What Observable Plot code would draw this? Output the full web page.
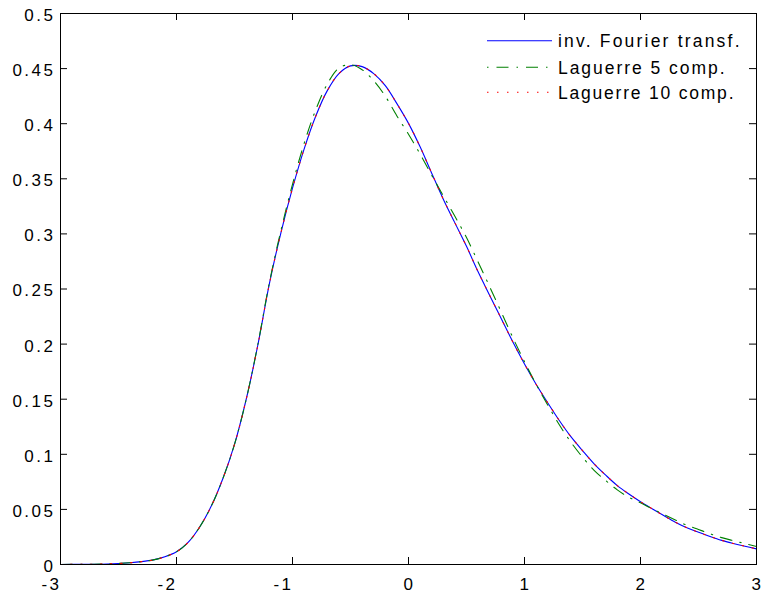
<!DOCTYPE html>
<html>
<head>
<meta charset="utf-8">
<script src="https://cdn.jsdelivr.net/npm/d3@7"></script>
<script src="https://cdn.jsdelivr.net/npm/@observablehq/plot@0.6"></script>
<style>
  html, body { margin: 0; padding: 0; background: #fff; }
  #chart { position: relative; width: 764px; height: 599px; }
</style>
</head>
<body>
<div id="chart"></div>
<script>
// ---- data ----
const xs = [-3.0, -2.8, -2.6, -2.4, -2.3, -2.2, -2.1, -2.0, -1.9, -1.8, -1.7, -1.6, -1.5, -1.4, -1.3, -1.2, -1.1, -1.0,
  -0.9, -0.8, -0.7, -0.6, -0.5, -0.4, -0.3, -0.2, -0.1, 0.0, 0.1, 0.2, 0.3, 0.4, 0.5, 0.6, 0.7, 0.8, 0.9, 1.0,
  1.1, 1.2, 1.3, 1.4, 1.5, 1.6, 1.7, 1.8, 1.9, 2.0, 2.1, 2.2, 2.3, 2.4, 2.5, 2.6, 2.7, 2.8, 2.9, 3.0];

const fourier = [0.0000, 0.0002, 0.0005, 0.0016, 0.0026, 0.0042, 0.0070, 0.0115, 0.0200, 0.0340, 0.0530, 0.0780, 0.1090, 0.1495, 0.1985, 0.2545, 0.3010, 0.3415,
  0.3770, 0.4068, 0.4300, 0.4455, 0.4525, 0.4518, 0.4455, 0.4345, 0.4182, 0.4003, 0.3790, 0.3551, 0.3315, 0.3100, 0.2887, 0.2656, 0.2442, 0.2230, 0.2018, 0.1820,
  0.1636, 0.1468, 0.1307, 0.1160, 0.1034, 0.0914, 0.0811, 0.0716, 0.0640, 0.0570, 0.0506, 0.0444, 0.0384, 0.0334, 0.0293, 0.0254, 0.0219, 0.0191, 0.0166, 0.0142];

const laguerre5 = [0.0000, 0.0002, 0.0005, 0.0016, 0.0026, 0.0042, 0.0070, 0.0115, 0.0200, 0.0340, 0.0530, 0.0780, 0.1090, 0.1495, 0.1990, 0.2555, 0.3030, 0.3450,
  0.3820, 0.4125, 0.4360, 0.4505, 0.4535, 0.4490, 0.4390, 0.4250, 0.4070, 0.3905, 0.3725, 0.3532, 0.3345, 0.3160, 0.2967, 0.2745, 0.2520, 0.2290, 0.2058, 0.1840,
  0.1636, 0.1448, 0.1268, 0.1110, 0.0974, 0.0855, 0.0762, 0.0677, 0.0610, 0.0560, 0.0506, 0.0455, 0.0404, 0.0356, 0.0318, 0.0279, 0.0244, 0.0216, 0.0190, 0.0164];

const laguerre10 = [0.0000, 0.0002, 0.0005, 0.0016, 0.0026, 0.0042, 0.0070, 0.0115, 0.0200, 0.0340, 0.0530, 0.0780, 0.1090, 0.1495, 0.1985, 0.2545, 0.3010, 0.3415,
  0.3770, 0.4068, 0.4300, 0.4455, 0.4525, 0.4518, 0.4455, 0.4345, 0.4182, 0.4003, 0.3790, 0.3551, 0.3315, 0.3100, 0.2887, 0.2656, 0.2442, 0.2230, 0.2018, 0.1820,
  0.1636, 0.1468, 0.1307, 0.1160, 0.1034, 0.0914, 0.0811, 0.0716, 0.0640, 0.0570, 0.0506, 0.0444, 0.0384, 0.0334, 0.0293, 0.0254, 0.0219, 0.0191, 0.0166, 0.0142];

const seriesNames = ["inv. Fourier transf.", "Laguerre 5 comp.", "Laguerre 10 comp."];
const seriesColors = ["#0000ff", "#008000", "#ff0000"];
const seriesDash = [null, "12,8,1.5,8", "1.5,8.5"];

const xTicks = [-3, -2, -1, 0, 1, 2, 3];
const yTicks = [0, 0.05, 0.1, 0.15, 0.2, 0.25, 0.3, 0.35, 0.4, 0.45, 0.5];
const yTickLabels = ["0", "0.05", "0.1", "0.15", "0.2", "0.25", "0.3", "0.35", "0.4", "0.45", "0.5"];

// ---- build tables ----
const seriesValues = [fourier, laguerre5, laguerre10];
const tables = seriesValues.map((vals, s) => xs.map((x, i) => ({x, y: vals[i], series: seriesNames[s]})));

const W = 764, H = 599;
const mL = 60, mR = 8, mT = 13, mB = 35;
const innerW = W - mL - mR, innerH = H - mT - mB;
const tickLen = 7;

const negTicks = xTicks.filter(d => d < 0);
const posTicks = xTicks.filter(d => d >= 0);
const yLabel = new Map(yTicks.map((d, i) => [d, yTickLabels[i]]));

const plot = Plot.plot({
  width: W, height: H,
  marginLeft: mL, marginRight: mR, marginTop: mT, marginBottom: mB,
  x: {domain: [-3, 3]},
  y: {domain: [0, 0.5]},
  style: {fontFamily: "'Liberation Sans', Arial, sans-serif", fontSize: "17px", color: "#000", background: "#fff", letterSpacing: "2.5px"},
  marks: [
    ...tables.map((t, s) => Plot.line(t, {
      x: "x", y: "y", stroke: seriesColors[s], strokeWidth: 1.1,
      strokeDasharray: seriesDash[s] || undefined, curve: "catmull-rom"
    })),
    Plot.frame({stroke: "#000", strokeWidth: 1}),
    Plot.ruleX(xTicks, {x: d => d, insetTop: innerH - tickLen, stroke: "#000"}),
    Plot.ruleX(xTicks, {x: d => d, insetBottom: innerH - tickLen, stroke: "#000"}),
    Plot.ruleY(yTicks, {y: d => d, insetRight: innerW - tickLen, stroke: "#000"}),
    Plot.ruleY(yTicks, {y: d => d, insetLeft: innerW - tickLen, stroke: "#000"}),
    Plot.axisX(negTicks, {tickSize: 0, tickPadding: 13, dx: -9, tickFormat: d => String(d), label: null}),
    Plot.axisX(posTicks, {tickSize: 0, tickPadding: 13, dx: 1, tickFormat: d => String(d), label: null}),
    Plot.axisY(yTicks, {tickSize: 0, tickPadding: 5, dy: 2, tickFormat: d => yLabel.get(d), label: null})
  ]
});

document.getElementById("chart").appendChild(plot);

// ---- legend (inside plot, upper right, no box) ----
const svg = d3.select(plot);
const lg = svg.append("g").attr("font-family", "'Liberation Sans', Arial, sans-serif")
  .attr("font-size", "17.5px").attr("fill", "#000")
  .attr("text-anchor", "start");
const rowLineY = [40.7, 67.3, 92.3];
const rowTextY = [47.3, 74.3, 99.3];
const rowTextLen = [184, 169, 178];
seriesNames.forEach((name, i) => {
  const ln = lg.append("line").attr("x1", 487).attr("x2", 552)
    .attr("y1", rowLineY[i]).attr("y2", rowLineY[i])
    .attr("stroke", seriesColors[i]).attr("stroke-width", 1.1);
  if (seriesDash[i]) ln.attr("stroke-dasharray", seriesDash[i]).attr("stroke-dashoffset", i === 1 ? 20 : 0);
  lg.append("text").attr("x", 558).attr("y", rowTextY[i]).attr("text-anchor", "start")
    .attr("textLength", rowTextLen[i]).attr("lengthAdjust", "spacing").text(name);
});
</script>
</body>
</html>
